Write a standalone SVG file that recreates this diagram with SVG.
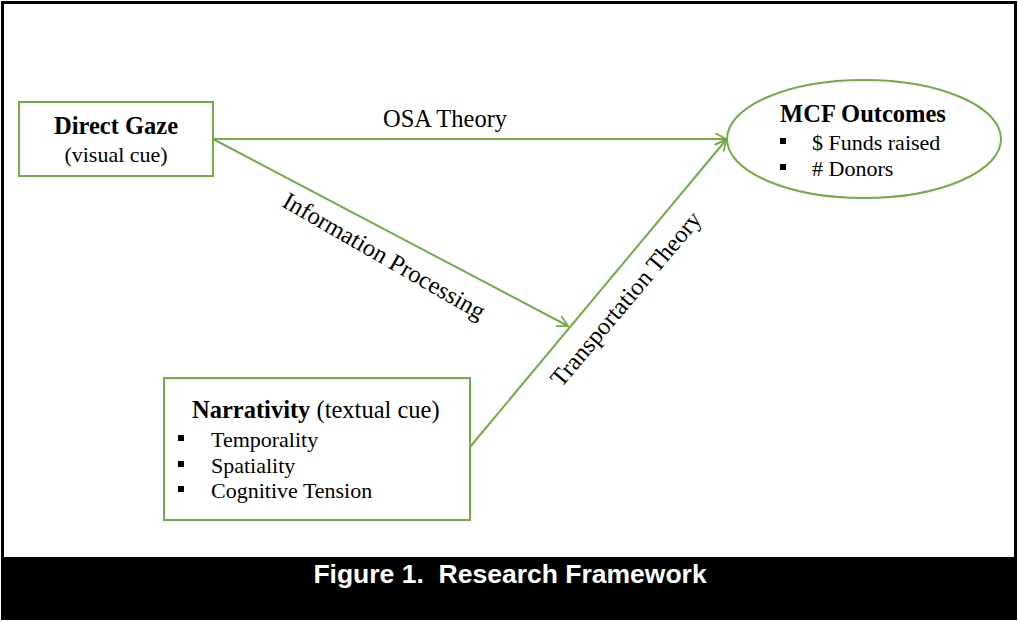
<svg xmlns="http://www.w3.org/2000/svg" width="1018" height="622" viewBox="0 0 1018 622">
<defs>
<style>
.node{fill:#fff;stroke:#70AD47;stroke-width:2}
.conn{stroke:#70AD47;stroke-width:2;fill:none}
.t{font-family:"Liberation Serif","Times New Roman",serif;fill:#000}
.b{font-weight:bold}
.cap{font-family:"Liberation Sans",Arial,sans-serif;font-weight:bold;font-size:26.5px;fill:#fff}
</style>
<marker id="arr" viewBox="0 0 12 12" refX="11" refY="6" markerWidth="12" markerHeight="12" markerUnits="userSpaceOnUse" orient="auto">
<path d="M0,0 L11,6 L0,12" fill="none" stroke="#70AD47" stroke-width="1.8"/>
</marker>
</defs>
<rect x="0" y="0" width="1018" height="622" fill="#fff"/>
<rect x="2.5" y="2.5" width="1013" height="616" fill="none" stroke="#000" stroke-width="3"/>
<rect x="2" y="557" width="1014" height="63" fill="#000"/>
<text class="cap" x="510" y="583" text-anchor="middle" xml:space="preserve">Figure 1.  Research Framework</text>

<g id="connectors">
<line class="conn" x1="213" y1="139" x2="726" y2="139" marker-end="url(#arr)"/>
<line class="conn" x1="213" y1="139" x2="568" y2="326" marker-end="url(#arr)"/>
<line class="conn" x1="470" y1="447" x2="726" y2="140" marker-end="url(#arr)"/>
<text class="t" x="445" y="127" font-size="24.5" text-anchor="middle">OSA Theory</text>
<text class="t" font-size="24.5" text-anchor="middle" transform="translate(380,263) rotate(30)">Information Processing</text>
<text class="t" font-size="24.5" text-anchor="middle" transform="translate(632,304) rotate(-50)">Transportation Theory</text>
</g>

<g id="direct-gaze">
<rect class="node" x="19" y="102" width="194" height="74"/>
<text class="t b" x="116" y="134" font-size="24.5" text-anchor="middle">Direct Gaze</text>
<text class="t" x="116" y="162" font-size="22" text-anchor="middle">(visual cue)</text>
</g>

<g id="mcf-outcomes">
<ellipse class="node" cx="864" cy="139" rx="137" ry="59"/>
<text class="t b" x="863" y="122" font-size="24.5" text-anchor="middle">MCF Outcomes</text>
<rect x="780" y="138" width="6" height="6" fill="#000"/>
<text class="t" x="812" y="150" font-size="22">$ Funds raised</text>
<rect x="780" y="164" width="6" height="6" fill="#000"/>
<text class="t" x="812" y="176" font-size="22"># Donors</text>
</g>

<g id="narrativity">
<rect class="node" x="164" y="378" width="306" height="142"/>
<text class="t" x="192" y="418" font-size="24.5"><tspan class="b">Narrativity</tspan> (textual cue)</text>
<rect x="178" y="435" width="6" height="6" fill="#000"/>
<text class="t" x="211" y="447" font-size="22">Temporality</text>
<rect x="178" y="461" width="6" height="6" fill="#000"/>
<text class="t" x="211" y="473" font-size="22">Spatiality</text>
<rect x="178" y="486" width="6" height="6" fill="#000"/>
<text class="t" x="211" y="498" font-size="22">Cognitive Tension</text>
</g>
</svg>
